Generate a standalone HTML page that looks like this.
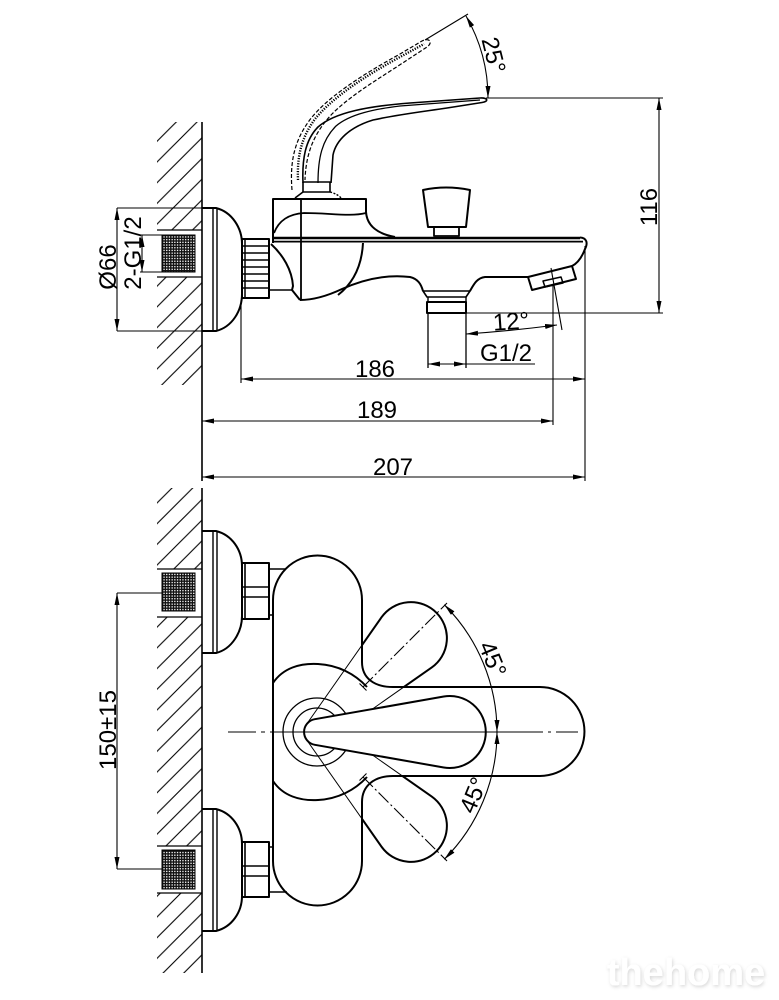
<!DOCTYPE html>
<html><head><meta charset="utf-8"><style>
html,body{margin:0;padding:0;background:#fff;}
svg{display:block;}
text{font-family:"Liberation Sans",Arial,sans-serif;font-size:24px;fill:#000;}
</style></head><body>
<svg width="779" height="1000" viewBox="0 0 779 1000" xmlns="http://www.w3.org/2000/svg">
<defs>
<marker id="ar" viewBox="0 0 12 5" refX="12" refY="2.5" markerWidth="12" markerHeight="5" markerUnits="userSpaceOnUse" orient="auto-start-reverse"><path d="M0,0 L12,2.5 L0,5 Z" fill="#000"/></marker>
<pattern id="h1" patternUnits="userSpaceOnUse" x="8.5" y="0" width="20.7" height="20.7"><path d="M-1,21.7 L21.7,-1 M-2,2 L2,-2 M18.7,22.7 L22.7,18.7" stroke="#000" stroke-width="1.1"/></pattern>
<pattern id="h2" patternUnits="userSpaceOnUse" x="18.3" y="0" width="20.7" height="20.7"><path d="M-1,21.7 L21.7,-1 M-2,2 L2,-2 M18.7,22.7 L22.7,18.7" stroke="#000" stroke-width="1.1"/></pattern>
<pattern id="th" patternUnits="userSpaceOnUse" width="2.7" height="2.7"><rect width="2.7" height="2.7" fill="#fff"/><rect width="1.4" height="2.7" fill="#111"/><rect width="2.7" height="1.4" fill="#111"/></pattern>
<clipPath id="ct"><path clip-rule="evenodd" d="M157,122H202V385H157Z M157,230H202V277H157Z"/></clipPath>
<clipPath id="cb"><path clip-rule="evenodd" d="M157,488H202V973H157Z M157,569H202V617H157Z M157,846H202V893H157Z"/></clipPath>
<mask id="mb" maskUnits="userSpaceOnUse" x="0" y="0" width="779" height="1000"><rect width="779" height="1000" fill="#fff"/><path fill="#000" d="M273,600 A44.5,44.5 0 0 1 362,600 L362,662 C362,678 374,687 393,687 L540,687 A44.5,44.5 0 0 1 540,776 L393,776 C374,776 362,786 362,802 L362,861 A44.5,44.5 0 0 1 273,861 Z"/></mask>
<filter id="sh" x="-10%" y="-30%" width="120%" height="160%"><feDropShadow dx="1" dy="1.5" stdDeviation="1.8" flood-color="#000" flood-opacity="0.16"/></filter>
<path id="lev" d="M314.8,719.2 L443.8,696.5 A36,36 0 1 1 443.8,767.5 L314.8,744.8 A13,13 0 0 1 314.8,719.2 Z"/>
</defs>

<!-- ===== WALL HATCH ===== -->
<rect x="157" y="122" width="45" height="263" fill="url(#h1)" clip-path="url(#ct)"/>
<rect x="157" y="488" width="45" height="485" fill="url(#h2)" clip-path="url(#cb)"/>
<g stroke="#000" fill="none">
<path d="M202,122 V481 M202,488 V973" stroke-width="1.6"/>
<path d="M157,230 H202 M157,277 H202 M157,569 H202 M157,617 H202 M157,846 H202 M157,893 H202" stroke-width="1.2"/>
</g>
<!-- thread blocks -->
<g stroke="#000" stroke-width="1">
<rect x="162" y="235" width="33" height="37" fill="url(#th)"/>
<rect x="162" y="573" width="33" height="38" fill="url(#th)"/>
<rect x="162" y="850" width="33" height="39" fill="url(#th)"/>
</g>

<!-- ===== TOP (SIDE) VIEW ===== -->
<g stroke="#000" fill="none" stroke-width="2" stroke-linejoin="round">
<path d="M202,208 H216 C232,212 242,228 242,244 V294 C242,311 232,327 216,331 H202"/>
<path d="M213,208 V331 M217,208 V331" stroke-width="1.4"/>
<rect x="242" y="239" width="27" height="59"/>
<path d="M245,239 V298 M242,246 H269 M242,253 H269 M242,260 H269 M242,267 H269 M242,274 H269 M242,281 H269 M242,288 H269" stroke-width="1.5"/>
<path d="M273,243 V199 H366 V212 C367,226 378,234 395,237"/>
<path d="M274,233 C279,220 289,214 304,213 C330,213 350,217 366,213" stroke-width="1.8"/>
<path d="M301,199 V300" stroke-width="1.8"/>
<path d="M273,238 H580" stroke-width="2.6"/>
<path d="M273,241.6 H583" stroke-width="1.8"/>
<path d="M580,237.5 C587,238 588,243 585,249 C582,257 578,263 572,266"/>
<path d="M528,277 L572,266 L576,279 L532,290 Z"/>
<path d="M543,281 L561,277 L563,283 L545,287 Z" stroke-width="1.5"/>
<path d="M528,277 L485,277 C477,278 474,284 470,291"/>
<path d="M423,291 C421,284 418,279 410,277 C385,274 362,280 342,289 C325,297 312,300 300,300"/>
<path d="M271,244 C283,255 292,270 293,286 L292,290 L300,300"/>
<path d="M269,290 H292" stroke-width="1.6"/>
<path d="M363,243 C362,262 356,281 338,295"/>
<path d="M423,291 L427,297 H466 L470,291 Z" stroke-width="1.6"/>
<path d="M428,297 V302 M466,297 V302" stroke-width="1.4"/>
<rect x="427" y="302" width="39" height="11"/>
<path d="M423,190 Q446,185 470,190 L466,227 H428 Z"/>
<rect x="434" y="227" width="25" height="9" stroke-width="1.8"/>
<rect x="303" y="182" width="27" height="10" stroke-width="1.6"/>
<path d="M295,198 L303,192" stroke-width="1.6"/>
<path d="M330,192 Q338,194 342,199" stroke-width="1.4" stroke-dasharray="2 1.5"/>
<path d="M303,183 C302,160 305,140 318,127 C335,112 370,106 410,103 L480,98 C488,97.5 489,101.5 482,102.5 L447,108 C420,112 395,115 373,120 C350,127 336,140 333,155 L331,183" stroke-width="1.6"/>
<path d="M318,183 C318,158 322,140 336,126 C350,114 375,109 400,106 L480,100" stroke-width="1.3"/>
<path d="M292,190 C290,165 293,143 309,121 C325,99 360,76 400,54 L422,41 C430,37 433,43 427,47 L395,68 C370,84 348,98 332,114 C316,131 306,150 305,180" stroke-width="1.2" stroke-dasharray="4 2"/>
<path d="M298,180 C297,157 301,138 315,119 C333,97 365,76 400,57 L424,44" stroke-width="2.4" stroke-dasharray="1.2 1.4"/>
</g>

<g stroke="#000" fill="none" stroke-width="1.1">
<path d="M117,208 H202 M117,331 H202"/>
<path d="M140,235 H162 M140,272 H162"/>
<path d="M117,208 V331" marker-start="url(#ar)" marker-end="url(#ar)"/>
<path d="M142,235 V272" marker-start="url(#ar)" marker-end="url(#ar)"/>
<path d="M486,98 H663 M466,313 H663"/>
<path d="M659,98 V313" marker-start="url(#ar)" marker-end="url(#ar)"/>
<path d="M425,40 L468,14"/>
<path d="M466,16 A164,164 0 0 1 488,98" marker-start="url(#ar)" marker-end="url(#ar)"/>
<path d="M551,268 L562,330"/>
<path d="M466,334 Q510,331 557,325" marker-start="url(#ar)" marker-end="url(#ar)"/>
<path d="M428,313 V368 M466,313 V368" stroke-width="1.3"/>
<path d="M428,364 H466" marker-start="url(#ar)" marker-end="url(#ar)"/>
<path d="M466,364 H535"/>
<path d="M241,300 V383 M585,246 V481 M553,285 V425"/>
<path d="M241,379 H585" marker-start="url(#ar)" marker-end="url(#ar)"/>
<path d="M202,421 H553" marker-start="url(#ar)" marker-end="url(#ar)"/>
<path d="M202,477 H585" marker-start="url(#ar)" marker-end="url(#ar)"/>
</g>
<text x="116" y="267" transform="rotate(-90 116 267)" text-anchor="middle">Ø66</text>
<text x="141" y="253" transform="rotate(-90 141 253)" text-anchor="middle">2-G1/2</text>
<text x="657" y="207" transform="rotate(-90 657 207)" text-anchor="middle">116</text>
<text transform="translate(494,55) rotate(76)" x="0" y="8.5" text-anchor="middle">25°</text>
<text transform="translate(511,321) rotate(-4)" x="0" y="8.5" text-anchor="middle">12°</text>
<text x="480" y="361">G1/2</text>
<text x="375" y="377" text-anchor="middle">186</text>
<text x="377" y="418" text-anchor="middle">189</text>
<text x="393" y="475" text-anchor="middle">207</text>

<!-- ===== FRONT VIEW ===== -->
<g stroke="#000" fill="none" stroke-width="2" stroke-linejoin="round">
<path d="M202,531 H216 C232,535 242,550 242,566 V616 C242,632 232,649 216,653 H202"/>
<path d="M213,531 V653 M217,531 V653" stroke-width="1.4"/>
<path d="M202,809 H216 C232,813 242,828 242,844 V896 C242,912 232,927 216,931 H202"/>
<path d="M213,809 V931 M217,809 V931" stroke-width="1.4"/>
<rect x="242" y="563" width="27" height="56"/>
<path d="M245,563 V619 M242,587 H269 M242,597 H269" stroke-width="1.6"/>
<rect x="242" y="842" width="27" height="55"/>
<path d="M245,842 V897 M242,866 H269 M242,876 H269" stroke-width="1.6"/>
<path d="M269,569 H286 M269,615 H273 M269,847 H273 M269,892 H287" stroke-width="1.6"/>
<circle cx="317" cy="732" r="34" stroke-width="1.3"/>
<circle cx="317" cy="732" r="24" stroke-width="1.3"/>
<use href="#lev" transform="rotate(-45 317 732)" stroke-width="1"/>
<use href="#lev" transform="rotate(45 317 732)" stroke-width="1"/>
<g mask="url(#mb)">
<use href="#lev" transform="rotate(-45 317 732)" stroke-width="2"/>
<use href="#lev" transform="rotate(45 317 732)" stroke-width="2"/>
</g>
<path d="M273,600 A44.5,44.5 0 0 1 362,600 L362,662 C362,678 374,687 393,687 L540,687 A44.5,44.5 0 0 1 540,776 L393,776 C374,776 362,786 362,802 L362,861 A44.5,44.5 0 0 1 273,861 Z"/>
<path d="M273,683 C283,668 300,663 318,664 C338,665 355,674 367,687"/>
<path d="M273,781 C283,796 300,801 318,800 C338,799 355,790 367,777"/>
<use href="#lev" fill="#fff" stroke-width="2"/>
</g>
<g stroke="#000" fill="none" stroke-width="1.1">
<path d="M228,732 H256 M261,732 H265 M270,732 H543 M548,732 H551 M556,732 H578"/>
<path d="M363,687 L447,603 M363,777 L447,861" stroke-dasharray="14 3 2 3"/>
<path d="M359.5,683.5 L366.5,690.5 M359.5,780.5 L366.5,773.5"/>
<path d="M444.3,604.7 A180,180 0 0 1 497,732" marker-start="url(#ar)" marker-end="url(#ar)"/>
<path d="M497,732 A180,180 0 0 1 444.3,859.3" marker-start="url(#ar)" marker-end="url(#ar)"/>
<path d="M117,593 H162 M117,869 H162"/>
<path d="M117,593 V869" marker-start="url(#ar)" marker-end="url(#ar)"/>
</g>
<text x="116" y="730" transform="rotate(-90 116 730)" text-anchor="middle">150±15</text>
<text transform="translate(493,659) rotate(67.5)" x="0" y="8.5" text-anchor="middle">45°</text>
<text transform="translate(473,795) rotate(-67.5)" x="0" y="8.5" text-anchor="middle">45°</text>

<text x="686" y="985" text-anchor="middle" style="font-size:38px;font-weight:bold;fill:#fff;" filter="url(#sh)">thehome</text>
</svg>
</body></html>
